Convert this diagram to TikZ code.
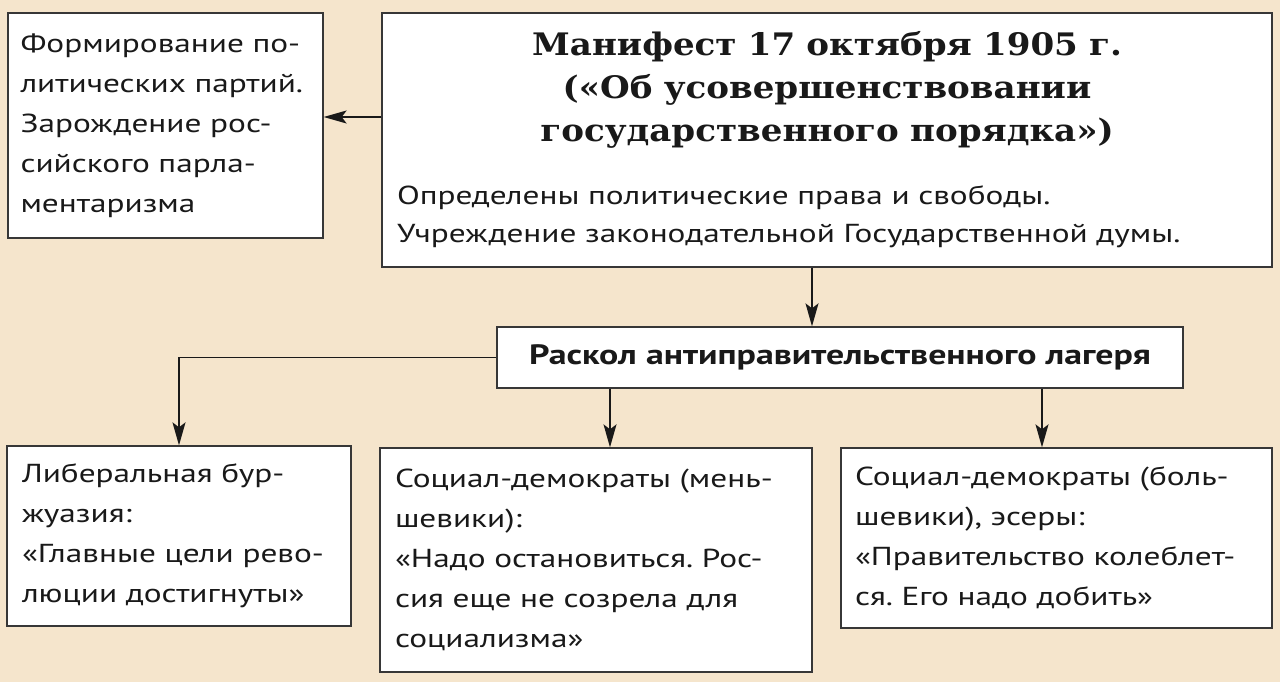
\documentclass[tikz,border=0pt]{standalone}
\usepackage{fontspec}
\setmainfont{PT Sans}[FakeStretch=1.28]
\newfontfamily\titlefont{DejaVu Serif}[FakeStretch=1.1]
\usetikzlibrary{arrows.meta}
\definecolor{bgbeige}{RGB}{245,229,204}
\definecolor{edgegray}{RGB}{55,55,55}
\definecolor{ink}{RGB}{25,25,25}
\frenchspacing
\begin{document}
\begin{tikzpicture}[x=1pt,y=-1pt,
  box/.style={draw=edgegray, line width=1.3pt, fill=white, text=ink, align=left,
    inner xsep=16pt, inner ysep=0pt, anchor=center},
  bodytext/.style={font=\fontsize{26}{40}\selectfont},
  arr/.style={draw=ink, line width=1.4pt, -{Stealth[length=23pt,width=13pt,inset=5pt]}}
]
\fill[bgbeige] (0,0) rectangle (1280,682);
\useasboundingbox (0,0) rectangle (1280,682);

\node[box, bodytext, text width=290pt, inner xsep=12.5pt, minimum height=225pt] (A) at (165.5,125.5)
  {Формирование по-\\литических партий.\\Зарождение рос-\\сийского парла-\\ментаризма};

\node[box, font=\fontsize{26}{38}\selectfont, text width=860pt, inner xsep=15pt, minimum height=254pt] (M) at (827,140)
  {{\centering\titlefont\bfseries\fontsize{31}{43}\selectfont\spaceskip=0.36em Манифест 17 октября 1905 г.\\(«Об усовершенствовании\\государственного порядка»)\par}%
   \vspace{25pt}%
   {Определены политические права и свободы.\\Учреждение законодательной Государственной думы.\par}};

\node[box, text width=660pt, inner xsep=13pt, align=center, minimum height=61pt, font=\bfseries\fontsize{28}{32}\selectfont] (R) at (840,357.5)
  {Раскол антиправительственного лагеря};

\node[box, bodytext, text width=314pt, inner xsep=15pt, minimum height=180pt] (L) at (179,536)
  {Либеральная бур-\\жуазия:\\«Главные цели рево-\\люции достигнуты»};

\node[box, bodytext, text width=402pt, inner xsep=15pt, minimum height=224pt] (S1) at (596,560)
  {Социал-демократы (мень-\\шевики):\\«Надо остановиться. Рос-\\сия еще не созрела для\\социализма»};

\node[box, bodytext, text width=403pt, inner xsep=14pt, minimum height=180pt] (S2) at (1056.5,538)
  {Социал-демократы (боль-\\шевики), эсеры:\\«Правительство колеблет-\\ся. Его надо добить»};

\coordinate (ya) at (0,117);
\coordinate (xm) at (812,0);
\coordinate (x1) at (610,0);
\coordinate (x2) at (1042,0);

\draw[arr] (M.west |- ya) -- (A.east |- ya);
\draw[arr] (M.south -| xm) -- (R.north -| xm);
\draw[arr] (R.west) -| (L.north);
\draw[arr] (R.south -| x1) -- (S1.north -| x1);
\draw[arr] (R.south -| x2) -- (S2.north -| x2);
\end{tikzpicture}
\end{document}
